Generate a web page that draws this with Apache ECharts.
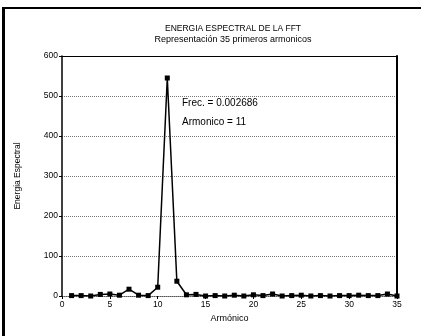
<!DOCTYPE html>
<html><head><meta charset="utf-8">
<script src="https://cdn.jsdelivr.net/npm/echarts@6/dist/echarts.min.js"></script>
<style>
html,body{margin:0;padding:0;background:#fff;}
#c{width:421px;height:336px;position:absolute;left:0;top:0;}
#frame{position:absolute;left:2px;top:7px;width:430px;height:340px;border-left:3px solid #000;border-top:2px solid #000;pointer-events:none;}
</style></head>
<body>
<div id="c"></div>
<div id="frame"></div>
<script>
var titleText = 'ENERGIA ESPECTRAL DE LA FFT';
var subtitleText = 'Representación 35 primeros armonicos';
var xName = 'Armónico';
var yName = 'Energia Espectral';
var annot1 = 'Frec. = 0.002686';
var annot2 = 'Armonico = 11';
var harmonics = [1,2,3,4,5,6,7,8,9,10,11,12,13,14,15,16,17,18,19,20,21,22,23,24,25,26,27,28,29,30,31,32,33,34,35];
var energy = [1,1,0,4,5,2,17,2,1,22,545,37,3,4,0,1,0,2,0,3,1,5,0,1,2,0,1,0,1,1,2,1,1,5,0];
var yTicks = [0,100,200,300,400,500,600];
var xTicks = [0,5,10,15,20,25,30,35];

var FONT = 'Liberation Sans';
var chart = echarts.init(document.getElementById('c'), null, {renderer:'canvas'});
var data = harmonics.map(function(h,i){return [h, energy[i]];});
chart.setOption({
  animation:false,
  backgroundColor:'#fff',
  title:{
    text:titleText, subtext:subtitleText, left:228, textAlign:'center', top:19, itemGap:2,
    textStyle:{fontFamily:FONT,fontSize:8.5,fontWeight:'normal',color:'#000'},
    subtextStyle:{fontFamily:FONT,fontSize:9,color:'#000'}
  },
  grid:{left:62, right:24, top:56, bottom:40},
  xAxis:[{
    type:'value', min:xTicks[0], max:xTicks[xTicks.length-1], interval:5,
    name:xName, nameLocation:'middle', nameGap:15,
    nameTextStyle:{fontFamily:FONT,fontSize:9,color:'#000'},
    axisLine:{onZero:false,lineStyle:{color:'#555',type:'dotted',width:1}},
    axisTick:{show:true,length:3,lineStyle:{color:'#000'}},
    axisLabel:{fontFamily:FONT,fontSize:8.5,color:'#000',margin:4},
    splitLine:{show:false}
  },{
    type:'value', position:'top', min:0, max:35,
    axisLine:{show:true,onZero:false,lineStyle:{color:'#000',width:1.2}}, axisTick:{show:false}, axisLabel:{show:false}, splitLine:{show:false}
  }],
  yAxis:[{
    type:'value', min:yTicks[0], max:yTicks[yTicks.length-1], interval:100,
    name:yName, nameLocation:'middle', nameGap:40,
    nameTextStyle:{fontFamily:FONT,fontSize:8.5,color:'#000'},
    axisLine:{show:true,onZero:false,lineStyle:{color:'#000',width:1.5}},
    axisTick:{show:true,length:3,lineStyle:{color:'#000'}},
    axisLabel:{fontFamily:FONT,fontSize:8.5,color:'#000',margin:4},
    splitLine:{show:true,lineStyle:{color:'#777',type:'dotted',width:1}}
  },{
    type:'value', position:'right', min:0, max:600,
    axisLine:{show:true,onZero:false,lineStyle:{color:'#000',width:2}}, axisTick:{show:false}, axisLabel:{show:false}, splitLine:{show:false}
  }],
  graphic:[
    {type:'text', left:182, top:98, style:{text:annot1, font:'10px "Liberation Sans"', fill:'#000'}},
    {type:'text', left:182, top:117, style:{text:annot2, font:'10px "Liberation Sans"', fill:'#000'}}
  ],
  series:[{
    type:'line', data:data, xAxisIndex:0, yAxisIndex:0,
    symbol:'rect', symbolSize:5, showAllSymbol:true,
    lineStyle:{color:'#000',width:1.5},
    itemStyle:{color:'#000'}
  }]
});
</script>
</body></html>
